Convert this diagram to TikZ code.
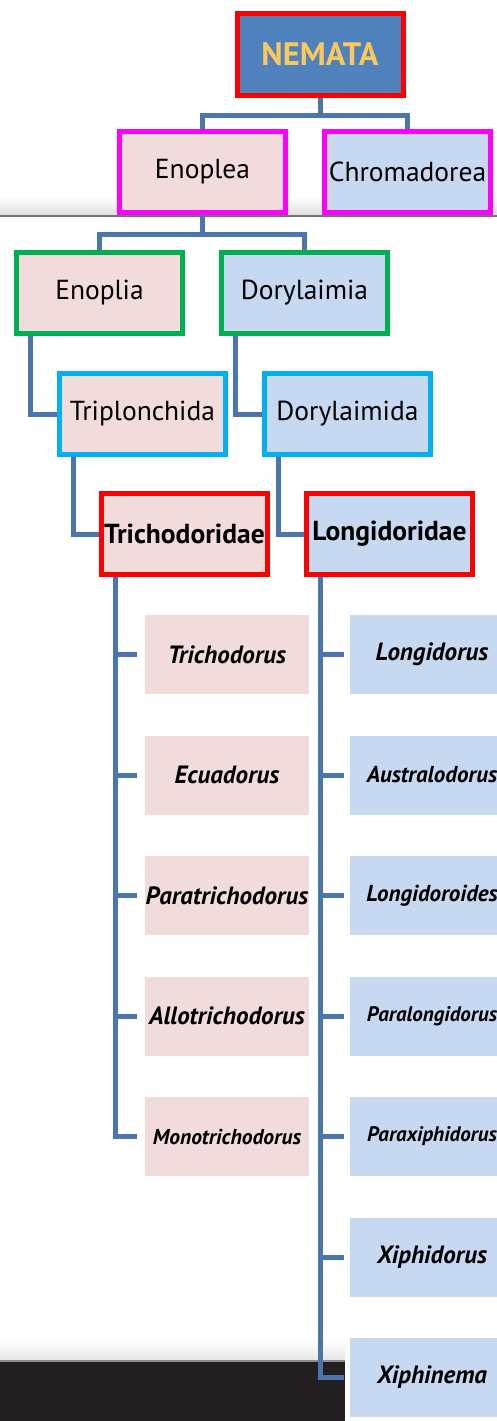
\documentclass[tikz,border=0pt]{standalone}
\usepackage{fontspec}
\setmainfont{PT Sans}
\usetikzlibrary{positioning,backgrounds,calc}

\definecolor{pinkfill}{RGB}{242,220,219}
\definecolor{bluefill}{RGB}{198,217,241}
\definecolor{rootfill}{RGB}{79,129,189}
\definecolor{rootgold}{RGB}{250,200,92}
\definecolor{linkblue}{RGB}{74,118,172}
\definecolor{classedge}{RGB}{255,0,255}
\definecolor{subedge}{RGB}{0,176,80}
\definecolor{orderedge}{RGB}{0,176,240}
\definecolor{famedge}{RGB}{255,0,0}
\definecolor{slidebar}{RGB}{35,31,32}

\tikzset{
  taxon/.style={draw, line width=5pt, minimum width=166pt, minimum height=81pt,
    inner sep=1pt, font=\fontsize{27.5}{30}\selectfont},
  classbox/.style={taxon, draw=classedge},
  subbox/.style={taxon, draw=subedge},
  orderbox/.style={taxon, draw=orderedge},
  fambox/.style={taxon, draw=famedge, font=\fontsize{27.5}{30}\selectfont\bfseries},
  genus/.style={minimum width=164pt, minimum height=79pt, inner sep=0pt},
  link/.style={draw=linkblue, line width=5pt},
}

\begin{document}
\begin{tikzpicture}[x=1pt, y=-1pt]
  \useasboundingbox (0,0) rectangle (497,1421);
  \clip (0,0) rectangle (497,1421);

  % Define nodes
  \node[taxon, draw=famedge, fill=rootfill, minimum height=82pt,
        text=rootgold, font=\fontsize{32.5}{35}\selectfont\bfseries]
                                              (nemata) at (320,54.5) {NEMATA};
  \node[classbox, fill=pinkfill]              (enoplea) at (202.5,172) {Enoplea};
  \node[classbox, fill=bluefill]              (chromadorea) at (407.5,172) {Chromadorea};
  \node[subbox, fill=pinkfill]                (enoplia) at (99.5,293) {Enoplia};
  \node[subbox, fill=bluefill]                (dorylaimia) at (304.5,293) {Dorylaimia};
  \node[orderbox, fill=pinkfill]              (triplonchida) at (142.5,414) {Triplonchida};
  \node[orderbox, fill=bluefill]              (dorylaimida) at (347.5,414) {Dorylaimida};
  \node[fambox, fill=pinkfill]                (trichodoridae) at (184.5,534) {Trichodoridae};
  \node[fambox, fill=bluefill]                (longidoridae) at (389.5,534) {Longidoridae};

  % Genera
  \foreach \name/\txt/\sz [count=\i] in {t1/Trichodorus/25, t2/Ecuadorus/25,
      t3/Paratrichodorus/25, t4/Allotrichodorus/25, t5/Monotrichodorus/21.5}
    \node[genus, fill=pinkfill, font=\fontsize{\sz}{\sz}\selectfont\bfseries\itshape]
      (\name) at (227,534+120.5*\i) {\txt};
  \foreach \name/\txt/\sz [count=\i] in {l1/Longidorus/25, l2/Australodorus/23,
      l3/Longidoroides/23, l4/Paralongidorus/21, l5/Paraxiphidorus/21,
      l6/Xiphidorus/25, l7/Xiphinema/25}
    \node[genus, fill=bluefill, font=\fontsize{\sz}{\sz}\selectfont\bfseries\itshape]
      (\name) at (432,534+120.5*\i) {\txt};

  \begin{scope}[on background layer]
    % Slide edges
    \shade[top color=white, bottom color=black!12] (0,196) rectangle (497,215);
    \draw[black!55, line width=2pt] (0,216) -- (497,216);
    \shade[top color=white, bottom color=black!10] (0,1340) rectangle (345,1360);
    \fill[slidebar] (0,1361) rectangle (345,1421);
    \draw[black!45, line width=2pt] (0,1361) -- (345,1361);

    % Connect the nodes
    \coordinate (j1) at ($(nemata.south)+(0,17)$);
    \draw[link] (nemata.south) -- (j1);
    \draw[link] (enoplea.north) |- (j1) -| (chromadorea.north);
    \coordinate (j2) at ($(enoplea.south)+(0,19)$);
    \draw[link] (enoplea.south) -- (j2);
    \draw[link] (enoplia.north) |- (j2) -| (dorylaimia.north);
    \draw[link] ([xshift=16pt]enoplia.south west) |- (triplonchida.west);
    \draw[link] ([xshift=16pt]dorylaimia.south west) |- (dorylaimida.west);
    \draw[link] ([xshift=16pt]triplonchida.south west) |- (trichodoridae.west);
    \draw[link] ([xshift=16pt]dorylaimida.south west) |- (longidoridae.west);

    \coordinate (ttrunk) at ([xshift=16pt]trichodoridae.south west);
    \coordinate (ltrunk) at ([xshift=16pt]longidoridae.south west);
    \draw[link] (ttrunk) |- ([xshift=-8pt]t5.west);
    \draw[link] (ltrunk) |- ([xshift=-6pt]l7.west);
    \foreach \name in {t1,t2,t3,t4}
      \draw[link] (\name.west -| ttrunk) -- ([xshift=-8pt]\name.west);
    \foreach \name in {l1,l2,l3,l4,l5,l6}
      \draw[link] (\name.west -| ltrunk) -- ([xshift=-6pt]\name.west);
  \end{scope}

\end{tikzpicture}
\end{document}
